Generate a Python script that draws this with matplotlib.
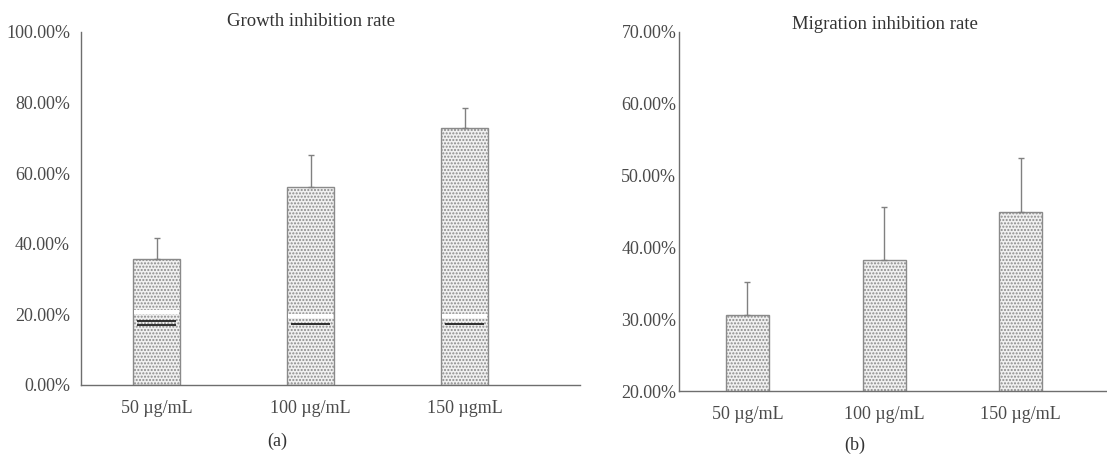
import matplotlib.pyplot as plt

plt.rcParams['font.family'] = ['Liberation Serif', 'DejaVu Serif']
plt.rcParams['hatch.color'] = '#999999'
plt.rcParams['hatch.linewidth'] = 1.0

# data
doses_a = ['50 µg/mL', '100 µg/mL', '150 µgmL']
growth = [35.7, 56.1, 72.8]
growth_err = [5.9, 9.1, 5.7]
mark_lines = [[18.1, 17.1], [17.3], [17.3]]
white_strips = [20.6, 19.6, 19.6]

doses_b = ['50 µg/mL', '100 µg/mL', '150 µg/mL']
migration = [30.6, 38.2, 44.9]
migration_err = [4.6, 7.4, 7.6]

grey = '#6e6e6e'
text_grey = '#4a4a4a'


def style_axis(ax):
    for side in ['top', 'right']:
        ax.spines[side].set_visible(False)
    for side in ['left', 'bottom']:
        ax.spines[side].set_color(grey)
        ax.spines[side].set_linewidth(1.0)
    ax.tick_params(length=0, labelsize=13, colors=text_grey)


def draw_bars(ax, vals, errs, width):
    x = range(len(vals))
    ax.bar(x, vals, width=width, color='#f0f0f0', edgecolor='#8a8a8a',
           hatch='.....', linewidth=1.0, zorder=2)
    ax.errorbar(x, vals, yerr=[[0] * len(vals), errs], fmt='none',
                ecolor='#808080', elinewidth=1.0, capsize=2, capthick=1.0, zorder=3)


fig = plt.figure(figsize=(11.07, 4.70), dpi=100)

# (a) growth inhibition
ax1 = fig.add_axes([0.0732, 0.181, 0.4508, 0.751])
width_a = 0.31
draw_bars(ax1, growth, growth_err, width_a)
for i, ys in enumerate(mark_lines):
    ax1.hlines(white_strips[i], i - width_a / 2 + 0.01, i + width_a / 2 - 0.01,
               color='white', linewidth=3, zorder=4)
    for y in ys:
        ax1.hlines(y, i - width_a / 2 + 0.03, i + width_a / 2 - 0.03,
                   color='#222222', linewidth=1.3, zorder=5)
ax1.set_xlim(-0.49, 2.75)
ax1.set_ylim(0, 100)
ax1.set_yticks([0, 20, 40, 60, 80, 100])
ax1.set_yticklabels(['%.2f%%' % v for v in [0, 20, 40, 60, 80, 100]])
ax1.set_xticks(range(3))
ax1.set_xticklabels(doses_a)
style_axis(ax1)
ax1.tick_params(axis='y', pad=8)
ax1.tick_params(axis='x', pad=11)
fig.text(0.281, 0.955, 'Growth inhibition rate', ha='center', va='center',
         fontsize=13.5, color='#333333')
fig.text(0.250, 0.06, '(a)', ha='center', va='center', fontsize=13, color='#333333')

# (b) migration inhibition
ax2 = fig.add_axes([0.6134, 0.168, 0.3866, 0.764])
draw_bars(ax2, migration, migration_err, 0.315)
ax2.set_xlim(-0.5, 2.63)
ax2.set_ylim(20, 70)
ax2.set_yticks([20, 30, 40, 50, 60, 70])
ax2.set_yticklabels(['%.2f%%' % v for v in [20, 30, 40, 50, 60, 70]])
ax2.set_xticks(range(3))
ax2.set_xticklabels(doses_b)
style_axis(ax2)
ax2.tick_params(axis='y', pad=2)
ax2.tick_params(axis='x', pad=11)
fig.text(0.799, 0.947, 'Migration inhibition rate', ha='center', va='center',
         fontsize=13.5, color='#333333')
fig.text(0.772, 0.053, '(b)', ha='center', va='center', fontsize=13, color='#333333')

plt.savefig('out.png', dpi=100)
plt.close()
